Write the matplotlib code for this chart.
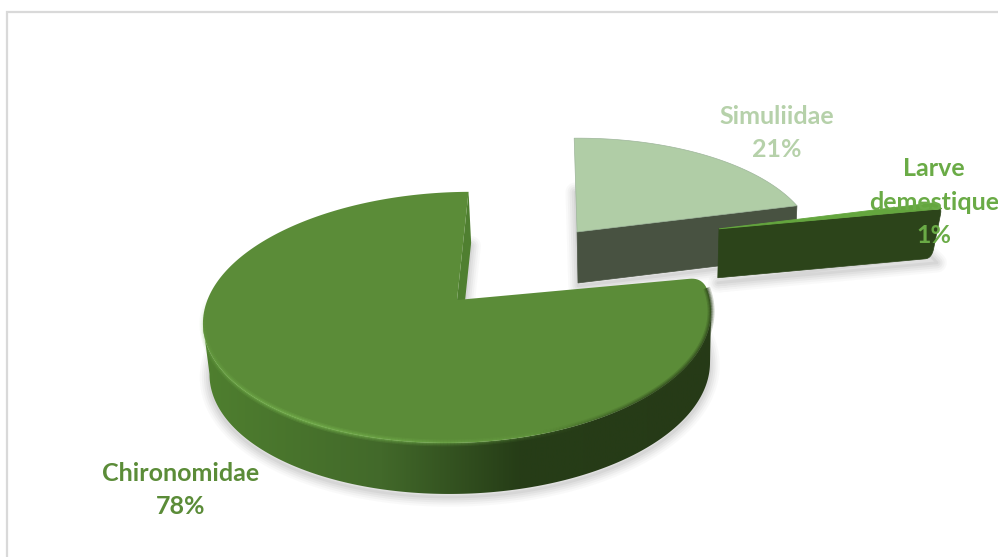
import numpy as np
import matplotlib
matplotlib.use('Agg')  # Use non-interactive backend
import matplotlib.pyplot as plt
from matplotlib.colors import LinearSegmentedColormap, to_rgb
from matplotlib.patches import Polygon
from matplotlib.collections import LineCollection

# Pie data
categories = ['Chironomidae', 'Larve', 'Simuliidae']
values = [78, 1, 21]
label_lines = ['Chironomidae\n78%', 'Larve\ndemestique\n1%', 'Simuliidae\n21%']

# Style for each slice
top_colors = ['#5b8c38', '#64a63e', '#b0cda6']
wall_colors = ['#4f7f30', '#2c441a', '#485241']
label_colors = ['#5b8c38', '#6aab46', '#b6d1aa']
label_pos = [(181, 490), (934, 202), (777, 133)]
explode = [(0.0, 0.0), (1.123, -0.565), (0.515, -0.57)]

# Perspective projection of the pie plane onto the page
ORIGIN = (457.0, 300.0)
SCALE_X = 251.6
SCALE_Y = 123.0
PERSPECTIVE = 0.139
TILT = -6.0
DEPTH = 51.0
START_ANGLE = 87.0
WALL_VANISH_X = 640.0
WALL_SHRINK = 0.985


def project(u, v, drop=0.0):
    """Map pie plane coordinates to page pixels, drop moves down the wall."""
    u = np.asarray(u, dtype=float)
    v = np.asarray(v, dtype=float)
    w = 1.0 - PERSPECTIVE * v
    x = ORIGIN[0] + SCALE_X * u / w
    y = ORIGIN[1] + SCALE_Y * v / w + TILT * u + drop * DEPTH
    if drop:
        x = WALL_VANISH_X + (x - WALL_VANISH_X) * WALL_SHRINK
    return x, y


def rim(center, a0, a1, n=240):
    # page angles grow counter-clockwise, v points toward the viewer
    t = np.radians(np.linspace(a0, a1, n))
    return center[0] + np.cos(t), center[1] - np.sin(t)


def at_radius(center, angle, r):
    t = np.radians(angle)
    return center[0] + r * np.cos(t), center[1] - r * np.sin(t)


def soften(p0, corner, p1, n=12):
    # quadratic curve that replaces a sharp corner
    t = np.linspace(0, 1, n)[:, None]
    return (1 - t) ** 2 * np.asarray(p0) + 2 * t * (1 - t) * np.asarray(corner) + t ** 2 * np.asarray(p1)


def wedge_outline(center, a0, a1, drop=0.0):
    u, v = rim(center, a0, a1)
    u = np.concatenate([[center[0]], u])
    v = np.concatenate([[center[1]], v])
    x, y = project(u, v, drop)
    return np.column_stack([x, y])


def radial_wall(center, angle, end_r=1.0, drop=1.0):
    r = np.array([0.0, 1.0])
    u, v = at_radius(center, angle, r)
    x0, y0 = project(u, v)
    u, v = at_radius(center, angle, r * end_r)
    x1, y1 = project(u, v, drop)
    return np.column_stack([x0, y0]), np.column_stack([x1, y1])


fig = plt.figure(figsize=(9.98, 5.57), dpi=100)
ax = fig.add_axes([0, 0, 1, 1])
ax.set_xlim(0, 998)
ax.set_ylim(557, 0)
ax.axis('off')

# Frame of the chart area
ax.plot([7, 7, 998], [557, 12, 12], color='#d9d9d9', lw=1.6, solid_joinstyle='miter')

# Slice angles from the values
shares = np.array(values, dtype=float) / sum(values)
ends = START_ANGLE + np.cumsum(shares) * 360
starts = ends - shares * 360

# Soft shadow under every slice
for grow, alpha in zip([14, 11, 8, 5, 2], [0.04, 0.05, 0.07, 0.08, 0.10]):
    for i in [2, 1, 0]:
        pts = wedge_outline(explode[i], starts[i], ends[i], 1.0) + np.array([0, 3])
        ax.add_patch(Polygon(pts, closed=True, fc='none', ec='#7f7f7f', lw=grow,
                             alpha=alpha, joinstyle='round', zorder=1))

# Simuliidae, drawn first because it sits furthest back
s = 2
top, bottom = radial_wall(explode[s], starts[s])
ax.add_patch(Polygon(np.vstack([top, bottom[::-1]]), closed=True, fc=wall_colors[s],
                     ec=wall_colors[s], lw=0.5, zorder=2))
ax.add_patch(Polygon(wedge_outline(explode[s], starts[s], ends[s]), closed=True,
                     fc=top_colors[s], ec='#9db59a', lw=0.5, zorder=3))

# Larve: almost only its side wall shows, with a thin top face
s = 1
top, bottom = radial_wall(explode[s], starts[s], end_r=0.975, drop=0.96)
tail = top[1] + (bottom[1] - top[1]) * 0.12
foot = bottom[1] + (bottom[0] - bottom[1]) * 0.03
up = top[1] + (top[0] - top[1]) * 0.01
side_end = bottom[1] + (top[1] - bottom[1]) * 0.2
outline = np.vstack([top[0][None], up[None], soften(up, top[1], tail),
                     soften(side_end, bottom[1], foot), bottom[0][None]])
ax.add_patch(Polygon(outline, closed=True, fc=wall_colors[s], ec=wall_colors[s],
                     lw=0.5, zorder=4))
ax.add_patch(Polygon(wedge_outline(explode[s], starts[s], ends[s]), closed=True,
                     fc=top_colors[s], ec=top_colors[s], lw=0.6, zorder=5))

# Chironomidae cut wall seen through the notch
s = 0
top, bottom = radial_wall(explode[s], starts[s])
ax.add_patch(Polygon(np.vstack([top, bottom[::-1]]), closed=True, fc=wall_colors[s],
                     ec='none', zorder=6))

# Chironomidae outer wall, a page-wide gradient clipped to the silhouette
wall_cmap = LinearSegmentedColormap.from_list(
    'wall', [(0.0, '#4f7f2f'), (0.35, '#42692a'), (0.62, '#263d17'), (1.0, '#263a17')])
u, v = rim(explode[s], starts[s], ends[s], 900)
xt, yt = project(u, v)
xb, yb = project(u, v, 1.0)
i0, i1 = np.argmin(xt), np.argmax(xt)
j0, j1 = np.argmin(xb), np.argmax(xb)
wall_pts = np.vstack([np.column_stack([xt[i0:i1 + 1], yt[i0:i1 + 1]]),
                      np.column_stack([xb[j0:j1 + 1], yb[j0:j1 + 1]])[::-1]])
clip = Polygon(wall_pts, closed=True, fc='none', ec='none', transform=ax.transData)
ax.add_patch(clip)
grad = np.linspace(0, 1, 512).reshape(1, -1)
im = ax.imshow(grad, cmap=wall_cmap, extent=[203, 712, 557, 180], aspect='auto', zorder=6)
im.set_clip_path(clip)
ax.set_xlim(0, 998)
ax.set_ylim(557, 0)

# Top face, its far corner on the right is rounded off
u, v = rim(explode[s], starts[s], ends[s] - 5, 400)
fx, fy = project(u, v)
cx, cy = project(*at_radius(explode[s], ends[s], 1.0))
ex, ey = project(*at_radius(explode[s], ends[s], 0.95))
corner = soften((fx[-1], fy[-1]), (cx, cy), (ex, ey))
ox, oy = project(*at_radius(explode[s], 0, 0.0))
face = np.vstack([[(ox, oy)], np.column_stack([fx, fy]), corner])
ax.add_patch(Polygon(face, closed=True, fc=top_colors[s], ec='none', zorder=7))

# Bevel along the front rim, light on the left and dark on the right
angles = np.linspace(starts[s], ends[s] - 5, 400)[:-1]
pts = np.column_stack([fx, fy])
segs = np.stack([pts[:-1], pts[1:]], axis=1)
light = np.clip(1 - np.abs(angles - 238) / 62, 0, 1)
dark = np.clip((angles - 285) / 30, 0, 1)
for lw, alpha in [(5.0, 0.22), (3.2, 0.3), (1.6, 0.45)]:
    light_rgba = np.zeros((len(segs), 4))
    light_rgba[:, :3] = to_rgb('#78b550')
    light_rgba[:, 3] = light * alpha
    dark_rgba = np.zeros((len(segs), 4))
    dark_rgba[:, :3] = to_rgb('#2a4019')
    dark_rgba[:, 3] = dark * alpha
    ax.add_collection(LineCollection(segs, colors=light_rgba, linewidths=lw, zorder=8))
    ax.add_collection(LineCollection(segs, colors=dark_rgba, linewidths=lw, zorder=8))

# Slice labels stay above the marks
for pos, text, color in zip(label_pos, label_lines, label_colors):
    ax.text(pos[0], pos[1], text, color=color, family='Lato', fontweight='bold',
            fontsize=18, ha='center', va='center', linespacing=1.54, zorder=10)

fig.savefig('out.png', dpi=100)
plt.close(fig)
